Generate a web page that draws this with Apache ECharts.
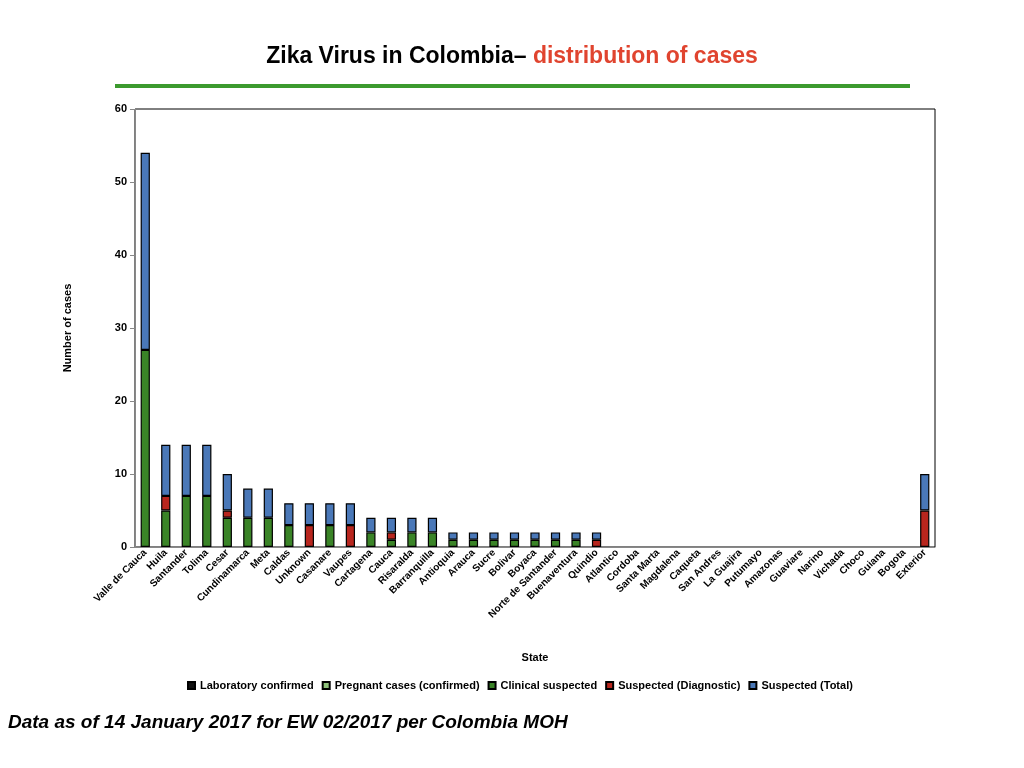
<!DOCTYPE html>
<html>
<head>
<meta charset="utf-8">
<script src="https://cdn.jsdelivr.net/npm/echarts@6/dist/echarts.min.js"></script>
<style>
html, body { margin: 0; padding: 0; background: #fff; }
#chart { width: 1024px; height: 768px; }
#rule { position: absolute; left: 115px; top: 84px; width: 795px; height: 4px; background: #3c9a2e; }
#note { position: absolute; left: 8px; top: 710px; width: 582px; font: italic bold 19px "Liberation Sans", Arial, sans-serif; text-align: justify; text-align-last: left; line-height: 23px; color: #000; }
</style>
</head>
<body>
<div id="chart"></div>
<div id="rule"></div>
<div id="note">Data as of 14 January 2017 for EW 02/2017 per Colombia MOH</div>
<script>
var states = ['Valle de Cauca', 'Huila', 'Santander', 'Tolima', 'Cesar', 'Cundinamarca', 'Meta', 'Caldas', 'Unknown', 'Casanare', 'Vaupes', 'Cartagena', 'Cauca', 'Risaralda', 'Barranquilla', 'Antioquia', 'Arauca', 'Sucre', 'Bolivar', 'Boyaca', 'Norte de Santander', 'Buenaventura', 'Quindio', 'Atlantico', 'Cordoba', 'Santa Marta', 'Magdalena', 'Caqueta', 'San Andres', 'La Guajira', 'Putumayo', 'Amazonas', 'Guaviare', 'Narino', 'Vichada', 'Choco', 'Guiana', 'Bogota', 'Exterior'];
var labConfirmed = [0,0,0,0,0,0,0,0,0,0,0,0,0,0,0,0,0,0,0,0,0,0,0,0,0,0,0,0,0,0,0,0,0,0,0,0,0,0,0];
var pregnant     = [0,0,0,0,0,0,0,0,0,0,0,0,0,0,0,0,0,0,0,0,0,0,0,0,0,0,0,0,0,0,0,0,0,0,0,0,0,0,0];
var clinical     = [27,5,7,7,4,4,4,3,0,3,0,2,1,2,2,1,1,1,1,1,1,1,0,0,0,0,0,0,0,0,0,0,0,0,0,0,0,0,0];
var diagnostic   = [0,2,0,0,1,0,0,0,3,0,3,0,1,0,0,0,0,0,0,0,0,0,1,0,0,0,0,0,0,0,0,0,0,0,0,0,0,0,5];
var suspTotal    = [27,7,7,7,5,4,4,3,3,3,3,2,2,2,2,1,1,1,1,1,1,1,1,0,0,0,0,0,0,0,0,0,0,0,0,0,0,0,5];

function z(a) { return a.map(function (v) { return v === 0 ? '-' : v; }); }
var font = '"Liberation Sans", Arial, sans-serif';
function bar(name, data, color) {
  return {
    name: name, type: 'bar', stack: 'all', data: z(data), barWidth: '45%',
    itemStyle: { color: color, borderColor: '#000', borderWidth: 1.2 }
  };
}

var chart = echarts.init(document.getElementById('chart'));
chart.setOption({
  animation: false,
  textStyle: { fontFamily: font },
  title: {
    text: '{a|Zika Virus in Colombia– }{b|distribution of cases}',
    left: 'center', top: 40,
    textStyle: { rich: {
      a: { fontFamily: font, fontWeight: 'bold', fontSize: 23, color: '#000' },
      b: { fontFamily: font, fontWeight: 'bold', fontSize: 23, color: '#e0442f' }
    } }
  },
  legend: {
    bottom: 72, left: 182, itemWidth: 7, itemHeight: 7, itemGap: 8, icon: 'rect',
    textStyle: { fontSize: 11, fontWeight: 'bold', color: '#000' },
    data: ['Laboratory confirmed', 'Pregnant cases (confirmed)', 'Clinical suspected', 'Suspected (Diagnostic)', 'Suspected (Total)']
  },
  grid: { left: 135, right: 89, top: 109, bottom: 221, show: true, borderColor: '#000', borderWidth: 1 },
  xAxis: {
    type: 'category', data: states,
    name: 'State', nameLocation: 'middle', nameGap: 105,
    nameTextStyle: { fontSize: 11, fontWeight: 'bold', color: '#000' },
    axisLine: { lineStyle: { color: '#888' } },
    axisTick: { lineStyle: { color: '#888' } },
    axisLabel: { rotate: 45, interval: 0, fontSize: 10, fontWeight: 'bold', color: '#000', margin: 4 }
  },
  yAxis: {
    type: 'value', min: 0, max: 60, interval: 10,
    name: 'Number of cases', nameLocation: 'middle', nameGap: 62,
    nameTextStyle: { fontSize: 11, fontWeight: 'bold', color: '#000' },
    axisLine: { show: true, lineStyle: { color: '#888' } },
    axisTick: { show: true, lineStyle: { color: '#888' } },
    splitLine: { show: false },
    axisLabel: { fontSize: 11, fontWeight: 'bold', color: '#000' }
  },
  series: [
    bar('Laboratory confirmed', labConfirmed, '#111111'),
    bar('Pregnant cases (confirmed)', pregnant, '#8fc27a'),
    bar('Clinical suspected', clinical, '#3a8427'),
    bar('Suspected (Diagnostic)', diagnostic, '#b8261e'),
    bar('Suspected (Total)', suspTotal, '#4a78b8')
  ]
});
</script>
</body>
</html>
